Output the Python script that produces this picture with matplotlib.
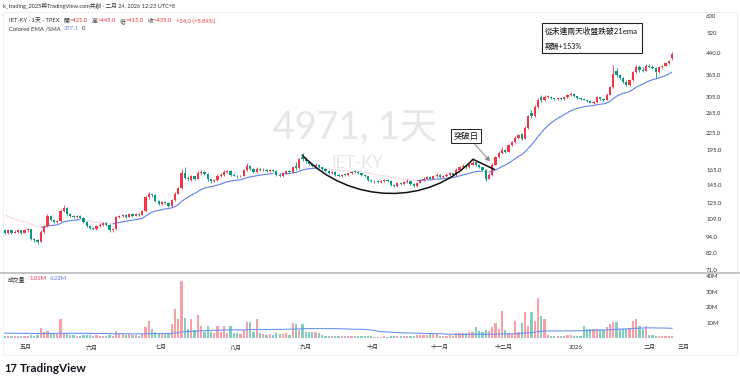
import numpy as np
import matplotlib
matplotlib.use("Agg")
import matplotlib.pyplot as plt
from matplotlib.collections import LineCollection
from matplotlib.path import Path
from matplotlib.patches import PathPatch, Rectangle, FancyArrowPatch
from matplotlib.lines import Line2D
from matplotlib.ticker import NullLocator

plt.rcParams['font.family'] = ['Lato', 'Noto Sans CJK TC', 'DejaVu Sans']

# daily bars, 4971 IET-KY, late Apr 2025 -> 24 Feb 2026
opens = [99, 97, 99, 97, 98, 99, 97, 99, 100, 92,
         91, 90, 98, 103, 112, 108, 106, 107, 117, 120,
         114, 112, 111, 112, 110, 106, 103, 101, 100, 103,
         104, 105, 104, 99, 100, 111, 112, 113, 111, 114,
         112, 114, 113, 117, 131, 134, 133, 127, 124, 126,
         125, 122, 128, 135, 141, 160, 154, 151, 156, 153,
         161, 162, 159, 152, 150, 151, 157, 158, 162, 163,
         158, 157, 156, 157, 164, 170, 166, 162, 166, 164,
         165, 163, 165, 163, 158, 156, 160, 163, 162, 170,
         167, 184, 181, 177, 173, 170, 172, 168, 166, 163,
         160, 162, 158, 156, 158.5, 158, 160, 162.5, 162, 160,
         158, 156, 151, 149.5, 150, 149, 150, 151, 150, 145,
         144, 148, 146, 149, 150, 146, 144, 148, 151, 153,
         155, 153, 156, 158, 155, 156, 158, 160, 158, 165,
         168, 170, 168, 172, 176, 172, 168, 165, 153, 158,
         172, 183, 190, 195, 192, 203, 208, 215, 222, 214,
         235, 266, 259, 280, 304, 296, 304, 305, 300, 298,
         300, 298, 303, 308, 312, 306, 300, 299, 297, 294,
         290, 291, 303, 298, 296, 310, 330, 378, 365, 355,
         345, 335, 350, 375, 392, 382, 379, 395, 390, 388,
         375, 390, 395, 403, 421]
highs = [100, 100, 99.5, 99, 100, 99.5, 100, 101, 100.5, 93,
         92, 99, 104, 114, 113, 109, 108, 119, 123, 121,
         115, 113, 113, 112.5, 110.5, 107, 104, 102, 104, 105,
         106, 106, 104.5, 101, 112, 113, 114, 114, 115, 115,
         115, 115, 118, 132, 137, 135, 134, 128, 127, 127,
         126, 129, 137, 143, 166, 169, 156, 158, 157, 163,
         165, 163, 160, 153, 153, 159, 160, 164, 165, 164,
         160, 158, 158, 166, 175, 171, 167, 168, 167, 167,
         166, 166, 166, 164, 159, 161, 165, 164, 170, 176,
         182, 189, 183, 178, 174, 174, 173, 169, 167, 164,
         163, 162.5, 159, 159, 160, 161, 163, 164, 163, 161,
         159, 157, 152, 151, 151, 151, 152, 152, 151, 146,
         149, 149, 150, 152, 151, 147, 149, 152, 155, 157,
         156, 158, 160, 159, 158, 160, 162, 161, 167, 170,
         173, 171, 175, 180, 177, 173, 169, 166, 160, 174,
         185, 193, 199, 197, 205, 210, 218, 223, 224, 238,
         262, 272, 284, 302, 308, 308, 309, 306, 302, 303,
         301, 305, 311, 316, 313, 307, 302, 300, 299, 296,
         293, 306, 304, 300, 313, 334, 397, 386, 368, 358,
         350, 353, 378, 398, 396, 390, 400, 400, 396, 390,
         393, 398, 405, 413, 445]
lows = [96, 96, 96, 96.5, 97, 96, 96.5, 98, 91, 90,
        88, 89.5, 97, 102, 107, 105, 105, 106, 116, 113,
        111, 110, 110, 109, 105, 102, 100, 99, 99.5, 102,
        103, 103, 98, 98, 99.5, 110, 111, 110, 110.5, 111,
        111.5, 112, 112.5, 116, 129, 131, 126, 123, 123, 124,
        121, 121, 127, 134, 140, 152, 150, 150, 151, 152,
        158, 158, 150, 148, 149, 150, 155, 157, 160, 157,
        156, 154, 155, 156, 163, 164, 161, 161, 163, 163,
        162, 162, 162, 157, 155, 155, 159, 161, 161, 164,
        166, 178, 175, 171, 169, 169, 167, 165, 162, 159,
        159, 157, 155, 155, 157, 157, 159, 161, 159, 157,
        155, 150, 149, 148, 148, 148, 149, 149, 144, 142,
        143, 145, 145, 148, 145, 142, 143, 147, 150, 152,
        152, 152, 155, 154, 154, 155, 157, 157, 157, 164,
        167, 166, 167, 171, 170, 167, 163, 150, 152, 157,
        171, 182, 188, 189, 191, 201, 206, 213, 211, 213,
        233, 255, 257, 277, 292, 294, 300, 298, 296, 297,
        296, 297, 302, 306, 304, 299, 297, 295, 292, 288,
        286, 290, 296, 294, 295, 308, 328, 360, 352, 342,
        332, 333, 348, 372, 376, 376, 377, 387, 385, 355,
        373, 388, 393, 401, 415]
closes = [97, 99, 97, 98, 99, 97, 99, 100, 92, 91,
          90, 98, 103, 112, 108, 106, 107, 117, 120, 114,
          112, 111, 112, 110, 106, 103, 101, 100, 103, 104,
          105, 104, 99, 100, 111, 112, 113, 111, 114, 112,
          114, 113, 117, 131, 134, 133, 127, 124, 126, 125,
          122, 128, 135, 141, 160, 154, 152, 156, 153, 161,
          162, 159, 152, 150, 151, 157, 158, 162, 163, 158,
          157, 156, 157, 164, 170, 166, 162, 166, 164, 165,
          163, 165, 163, 158, 156, 160, 163, 162, 168, 167,
          180, 181, 177, 173, 170, 172, 168, 166, 163, 160,
          162, 158, 156, 158, 158, 160, 162, 162, 160, 158,
          156, 151, 150, 150, 149, 150, 151, 150, 145, 144,
          148, 146, 149, 150, 146, 144, 148, 151, 153, 155,
          153, 156, 158, 155, 156, 158, 160, 158, 165, 168,
          170, 168, 172, 175, 172, 168, 165, 153, 158, 172,
          183, 190, 195, 192, 203, 208, 215, 220, 214, 235,
          258, 259, 280, 297, 296, 304, 305, 300, 298, 300,
          298, 303, 308, 312, 306, 300, 299, 297, 294, 290,
          291, 303, 298, 296, 310, 330, 370, 365, 355, 345,
          335, 350, 375, 390, 380, 379, 395, 390, 388, 375,
          390, 395, 403, 411, 435]
# volume in millions of shares
volumes = [1.5, 1.3, 1.2, 1.1, 1.4, 1.3, 1.2, 1.5, 2.2, 1.6,
           1.8, 6.5, 4.0, 4.2, 3.2, 2.6, 2.8, 12.0, 3.5, 3.4,
           2.0, 1.8, 1.6, 1.5, 2.2, 2.0, 1.8, 1.5, 1.7, 1.4,
           1.6, 1.3, 2.1, 1.5, 4.5, 3.0, 2.4, 2.0, 2.5, 1.8,
           2.2, 1.6, 2.8, 7.0, 11.0, 6.0, 3.8, 3.2, 2.8, 2.5,
           3.0, 9.0, 19.0, 12.0, 37.0, 13.0, 6.0, 12.5, 5.0, 15.0,
           8.0, 4.0, 7.5, 4.0, 3.0, 8.0, 4.0, 8.0, 3.5, 7.5,
           3.0, 3.0, 2.5, 5.0, 10.5, 10.5, 4.0, 12.0, 3.0, 2.5,
           2.2, 2.5, 2.0, 3.0, 2.5, 2.8, 3.0, 2.2, 9.5, 9.0,
           5.0, 9.0, 4.0, 4.0, 4.0, 4.0, 3.5, 2.0, 1.5, 1.5,
           1.3, 1.5, 1.2, 1.2, 1.0, 1.3, 1.4, 1.2, 1.0, 1.1,
           1.0, 1.5, 1.0, 0.9, 0.8, 0.9, 1.0, 0.9, 1.6, 1.2,
           1.4, 1.0, 1.2, 1.3, 1.2, 1.5, 2.2, 2.0, 2.2, 2.0,
           2.5, 2.6, 2.4, 1.5, 1.4, 1.5, 1.8, 1.6, 3.5, 3.5,
           3.2, 3.0, 3.6, 3.8, 7.0, 4.5, 4.0, 5.0, 4.5, 7.0,
           10.0, 6.0, 17.5, 5.0, 3.0, 2.5, 11.0, 4.0, 10.0, 16.5,
           8.0, 16.5, 11.0, 25.5, 14.5, 12.0, 2.0, 1.5, 1.2, 1.3,
           1.1, 1.5, 1.8, 2.0, 1.6, 1.4, 1.5, 7.5, 6.0, 6.0,
           5.5, 6.0, 5.5, 5.0, 7.0, 9.0, 10.5, 10.5, 6.0, 6.0,
           6.0, 6.5, 11.0, 12.5, 8.0, 6.0, 8.0, 2.0, 1.8, 1.6,
           1.5, 1.3, 1.4, 1.2, 1.01]

ema_len = 21
ema_seed = 114      # ema value before the first visible bar
vol_ma_len = 60
vol_ma_seed = 3.2

month_labels = ['五月', '六月', '七月', '八月', '九月', '十月', '十一月', '十二月', '2026', '二月', '三月']
month_pos = [6.5, 26.5, 47.5, 70.5, 92, 112.5, 133, 152.5, 174.5, 197, 207.5]

price_ticks = [600, 520, 440, 365, 305, 265, 225, 195, 165, 145, 125, 109, 94, 82, 71]
price_tick_labels = ['600', '520', '440.0', '365.0', '305.0', '265.0', '225.0', '195.0',
                     '165.0', '145.0', '125.0', '109.0', '94.0', '82.0', '71.0']
vol_ticks = [10, 20, 30, 40]
vol_tick_labels = ['10M', '20M', '30M', '40M']

# hand drawn cup (bar index, price): start, two control points, end, then line down
cup_pts = [(90.8, 187), (105.5, 122), (130, 122), (143.1, 180), (149.8, 165)]
arrow_from = (143.6, 205)
arrow_to = (148.3, 177)

RED = '#f23645'
GREEN = '#089981'
BLUE = '#5b7cf0'
TXT = '#333333'

W, H = 740, 383
fig = plt.figure(figsize=(W / 100, H / 100), dpi=100)
renderer = fig.canvas.get_renderer()


def fx(px):
    return px / W


def fy(py):
    return 1 - py / H


def text_row(x0, y0, parts, size=4.2):
    # draw coloured pieces one after another; gap is in pixels before the piece
    xp = x0
    for gap, t, col in parts:
        xp += gap
        tx = fig.text(fx(xp), fy(y0), t, fontsize=size, color=col, va='center')
        xp += tx.get_window_extent(renderer).width


ax = fig.add_axes([0, fy(272), fx(695), (272 - 12) / H])
vax = fig.add_axes([0, fy(338), fx(695), (338 - 274) / H], sharex=ax)

o = np.array(opens, float)
h = np.array(highs, float)
l = np.array(lows, float)
c = np.array(closes, float)
v = np.array(volumes, float)
x = np.arange(len(c))
up = c >= o
cols = np.where(up, RED, GREEN)

# candles
ax.vlines(x, l, h, colors=cols, lw=0.6, zorder=3)
body = np.maximum(np.abs(c - o), c * 0.004)
ax.bar(x, body, bottom=np.minimum(o, c), width=0.68, color=cols, lw=0, zorder=4)

# colored EMA: blue when rising, faint when falling
ema = []
prev = ema_seed
k = 2 / (ema_len + 1)
for val in c:
    prev = prev + k * (val - prev)
    ema.append(prev)
ema = np.array(ema)
segs = [[(x[i], ema[i]), (x[i + 1], ema[i + 1])] for i in range(len(x) - 1)]
seg_cols = [BLUE if ema[i + 1] >= ema[i] else '#f6dadc' for i in range(len(x) - 1)]
ax.add_collection(LineCollection(segs, colors=seg_cols, linewidths=0.8, zorder=2))

ax.set_yscale('log')
ax.set_ylim(69.8, 620.5)
ax.set_xlim(-1.5, 211)
ax.yaxis.set_major_locator(plt.FixedLocator(price_ticks))
ax.yaxis.set_minor_locator(NullLocator())
ax.set_yticklabels(price_tick_labels)
ax.yaxis.tick_right()
ax.tick_params(axis='y', length=0, pad=8, labelsize=4.3, labelcolor=TXT)
ax.tick_params(axis='x', length=0, labelbottom=False)
for s in ax.spines.values():
    s.set_visible(False)
ax.set_facecolor('none')

# cup drawing
codes = [Path.MOVETO, Path.CURVE4, Path.CURVE4, Path.CURVE4, Path.LINETO]
ax.add_patch(PathPatch(Path(cup_pts, codes), fill=False, ec='#111111', lw=1.1, zorder=5))
ax.add_patch(FancyArrowPatch(arrow_from, arrow_to, arrowstyle='-|>,head_length=2.5,head_width=1.5',
                             color='#888888', lw=0.7, zorder=6, shrinkA=0, shrinkB=0))

# watermark
ax.text(fx(355), fy(129), '4971, 1天', transform=fig.transFigure, fontsize=27,
        color='#e6e6e6', ha='center', va='center', zorder=0)
ax.text(fx(357), fy(163), 'IET-KY', transform=fig.transFigure, fontsize=12,
        color='#e6e6e6', ha='center', va='center', zorder=0)

# volume pane
vcols = np.where(up, '#f8a0a7', '#84ccc1')
vax.bar(x, v, width=0.68, color=vcols, lw=0, zorder=2)
padded = np.concatenate([np.full(vol_ma_len - 1, vol_ma_seed), v])
vol_ma = np.convolve(padded, np.ones(vol_ma_len) / vol_ma_len, mode='valid')
vax.plot(x, vol_ma, color='#6d95f2', lw=0.8, zorder=3)
vax.set_ylim(0, 41.3)
vax.set_yticks(vol_ticks)
vax.set_yticklabels(vol_tick_labels)
vax.yaxis.tick_right()
vax.tick_params(axis='y', length=0, pad=8, labelsize=4.3, labelcolor=TXT)
vax.set_xticks(month_pos)
vax.set_xticklabels(month_labels)
vax.tick_params(axis='x', length=0, pad=5, labelsize=4.3, labelcolor=TXT)
for s in vax.spines.values():
    s.set_visible(False)
vax.set_facecolor('none')

# pane separator and frame
fig.add_artist(Line2D([0, 1], [fy(273), fy(273)], color='#c4c4c4', lw=1.4))
fig.add_artist(Rectangle((fx(3), fy(355)), fx(734), (355 - 12) / H, fill=False,
                         ec='#ececec', lw=0.6, transform=fig.transFigure))

# header + legends
fig.text(fx(3), fy(6), 'k_trading_2025與TradingView.com共創 · 二月 24, 2026 12:23 UTC+8',
         fontsize=4.1, color=TXT, va='center')
text_row(9, 21, [(0, 'IET-KY · 1天 · TPEX', TXT),
                 (4, '開', TXT), (0, '=421.0', RED),
                 (4, '高', TXT), (0, '=445.0', RED),
                 (4, '低', TXT), (0, '=415.0', RED),
                 (4, '收', TXT), (0, '=435.0', RED),
                 (4, '+24.0 (+5.84%)', RED)])
text_row(9, 29, [(0, 'Colored EMA /SMA', TXT), (3, '377.1', BLUE), (3, '0', TXT)])
text_row(8, 279, [(0, '成交量', TXT), (4, '1.01M', RED), (3, '6.22M', BLUE)])

# annotations
fig.text(fx(466), fy(136), '突破日', fontsize=6, color='#111111', ha='center', va='center',
         bbox=dict(boxstyle='square,pad=0.3', fc='white', ec='#222222', lw=0.7), zorder=7)
fig.add_artist(Rectangle((fx(542), fy(53)), fx(100), 30 / H, fc='white', ec='#222222',
                         lw=0.8, transform=fig.transFigure, zorder=7))
fig.text(fx(545), fy(31), '從未連兩天收盤跌破21ema', fontsize=5.6, color='#111111',
         va='center', zorder=8)
fig.text(fx(545), fy(46), '報酬+153%', fontsize=5.2, color='#111111', va='center', zorder=8)

# footer logo
fig.text(fx(4), fy(368), '17', fontsize=8, fontweight='bold', color='#131722', va='center')
fig.text(fx(20), fy(368), 'TradingView', fontsize=8.5, fontweight='bold', color='#131722',
         va='center')

fig.savefig('out.png', dpi=100, facecolor='white')
